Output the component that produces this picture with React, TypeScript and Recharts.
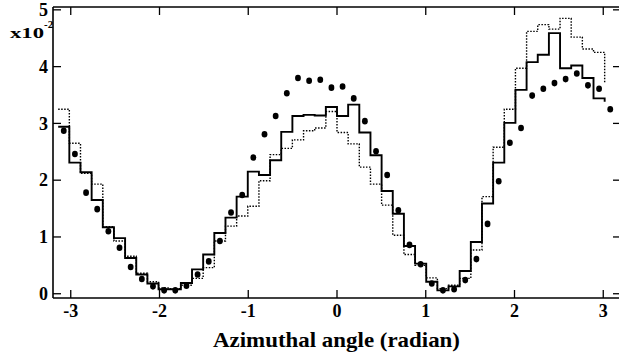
import React from 'react';
import { ComposedChart, Line, Scatter, XAxis, YAxis } from 'recharts';

// histogram binning: 50 bins over [-pi, pi]
const BINS = 50;
const BIN_WIDTH = (2 * Math.PI) / BINS;

// solid histogram (last value only shows as the final drop)
const solidHist = [
  2.94, 2.31, 2.14, 1.65, 1.17, 0.98, 0.63, 0.34, 0.18, 0.08,
  0.08, 0.19, 0.43, 0.69, 1.07, 1.34, 1.71, 2.15, 2.09, 2.35,
  2.85, 3.13, 3.15, 3.14, 3.29, 3.13, 3.33, 2.84, 2.44, 1.81,
  1.41, 0.84, 0.53, 0.21, 0.06, 0.13, 0.4, 0.91, 1.59, 2.31,
  3.01, 3.59, 4.08, 4.21, 4.59, 3.97, 4.02, 3.8, 3.44, 3.38,
];

// dotted histogram
const dottedHist = [
  3.25, 2.65, 2.12, 1.93, 1.18, 0.93, 0.66, 0.36, 0.21, 0.1,
  0.09, 0.15, 0.27, 0.46, 0.93, 1.19, 1.37, 1.54, 1.99, 2.45,
  2.56, 2.71, 2.87, 2.92, 3.21, 2.84, 2.64, 2.23, 1.93, 1.56,
  1.03, 0.69, 0.5, 0.28, 0.09, 0.15, 0.27, 0.77, 1.71, 2.58,
  3.25, 3.97, 4.62, 4.74, 4.66, 4.85, 4.52, 4.31, 4.25, 3.71,
];

// data points (bin centres)
const dotValues = [
  2.87, 2.46, 1.78, 1.49, 1.1, 0.81, 0.47, 0.26, 0.13, 0.06,
  0.06, 0.14, 0.34, 0.57, 0.93, 1.43, 1.74, 2.4, 2.81, 3.13,
  3.53, 3.8, 3.75, 3.77, 3.63, 3.65, 3.44, 3.04, 2.51, 2.09,
  1.47, 0.86, 0.52, 0.18, 0.06, 0.08, 0.24, 0.61, 1.23, 1.98,
  2.66, 2.92, 3.49, 3.61, 3.71, 3.78, 3.88, 3.67, 3.61, 3.25,
];

const xTicks = [-3, -2, -1, 0, 1, 2, 3];
const yTicks = [0, 1, 2, 3, 4, 5];

const edge = (i: number) => -Math.PI + i * BIN_WIDTH;
const solidData = solidHist.map((y, i) => ({ x: edge(i), y }));
const dottedData = dottedHist.map((y, i) => ({ x: edge(i), y }));
const dotData = dotValues.map((y, i) => ({ x: edge(i) + BIN_WIDTH / 2, y }));

const FONT = 'Liberation Serif';
const axisLine = { stroke: '#000', strokeWidth: 1.6 };
const tickLine = { stroke: '#000', strokeWidth: 1.3 };

const XTick = (props: any) => (
  <text x={props.x} y={props.y} dy="0.71em" textAnchor="middle" fontSize={18} fontWeight="bold" fontFamily={FONT} fill="#000">
    {props.payload.value}
  </text>
);

const YTick = (props: any) => (
  <text x={props.x} y={props.y} dy="0.35em" textAnchor="end" fontSize={18} fontWeight="bold" fontFamily={FONT} fill="#000">
    {props.payload.value}
  </text>
);

const Dot = (props: any) => {
  const { cx, cy } = props;
  if (cx == null || cy == null) return null;
  return <ellipse cx={cx} cy={cy} rx={2.9} ry={3.3} fill="#000" />;
};

export default function App() {
  return (
    <div style={{ position: 'absolute', left: 0, top: 0, width: 619, height: 356, overflow: 'hidden', background: '#fff' }}>
      <ComposedChart width={625} height={356} margin={{ top: 0, right: 0, bottom: 0, left: 0 }}>
        <XAxis
          dataKey="x"
          type="number"
          domain={[-3.2, 3.2]}
          ticks={xTicks}
          allowDataOverflow
          height={58}
          tickSize={-8}
          tickMargin={14}
          axisLine={axisLine}
          tickLine={tickLine}
          tick={XTick}
        />
        <XAxis
          xAxisId="top"
          orientation="top"
          dataKey="x"
          type="number"
          domain={[-3.2, 3.2]}
          ticks={xTicks}
          allowDataOverflow
          height={7}
          tickSize={-8}
          axisLine={axisLine}
          tickLine={tickLine}
          tickFormatter={() => ''}
        />
        <YAxis
          type="number"
          domain={[-0.075, 5.05]}
          ticks={yTicks}
          allowDataOverflow
          width={53}
          tickSize={-8}
          tickMargin={13}
          axisLine={axisLine}
          tickLine={tickLine}
          tick={YTick}
        />
        <YAxis
          yAxisId="right"
          orientation="right"
          type="number"
          domain={[-0.075, 5.05]}
          ticks={yTicks}
          allowDataOverflow
          width={4}
          tickSize={-8}
          axisLine={axisLine}
          tickLine={tickLine}
          tickFormatter={() => ''}
        />
        <Line
          data={dottedData}
          dataKey="y"
          type="stepAfter"
          stroke="#000"
          strokeWidth={1.4}
          strokeDasharray="1.5 1.5"
          dot={false}
          isAnimationActive={false}
        />
        <Line
          data={solidData}
          dataKey="y"
          type="stepAfter"
          stroke="#000"
          strokeWidth={1.9}
          dot={false}
          isAnimationActive={false}
        />
        <Scatter data={dotData} dataKey="y" shape={Dot} isAnimationActive={false} />
      </ComposedChart>
      <svg width={619} height={356} style={{ position: 'absolute', left: 0, top: 0, pointerEvents: 'none' }}>
        <text x={10} y={38} fontSize={15} fontWeight="bold" fontFamily={FONT} textLength={34} lengthAdjust="spacingAndGlyphs">
          x10
        </text>
        <text x={44} y={28} fontSize={11} fontWeight="bold" fontFamily={FONT}>
          -2
        </text>
        <text x={336.5} y={346.5} fontSize={21} fontWeight="bold" fontFamily={FONT} textAnchor="middle" textLength={247} lengthAdjust="spacingAndGlyphs">
          Azimuthal angle  (radian)
        </text>
      </svg>
    </div>
  );
}
